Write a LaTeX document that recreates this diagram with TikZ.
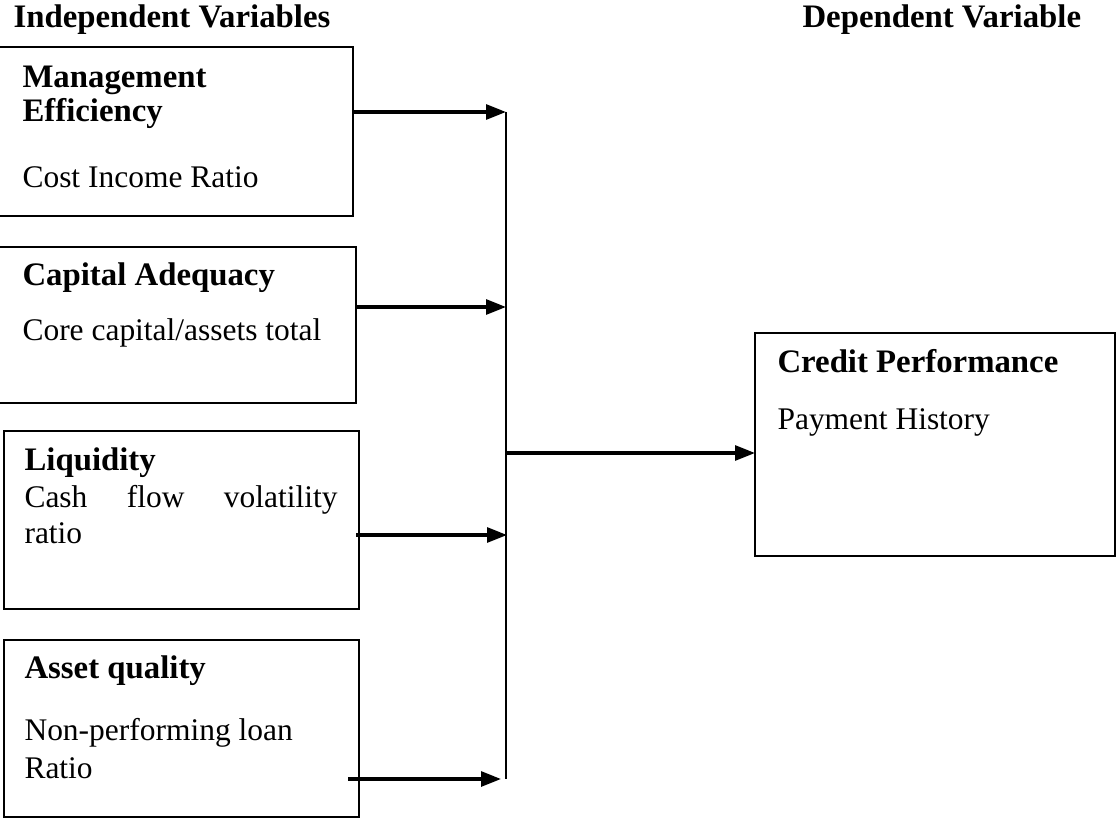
\documentclass[tikz,border=0pt]{standalone}
\usepackage{fontspec}
\setmainfont{Liberation Serif}
\usetikzlibrary{arrows.meta}
\newlength\pxu
\setlength\pxu{0.375pt}
\begin{document}
\begin{tikzpicture}[x=0.375pt,y=-0.375pt,
  box/.style={draw=black,line width=0.8pt,inner sep=0pt,outer sep=0pt,anchor=north west},
  txt/.style={anchor=base west,inner sep=0pt,font=\fontsize{11.8}{14}\selectfont},
  btxt/.style={txt,font=\fontsize{12.3}{14}\selectfont\bfseries},
  arr/.style={line width=1.2pt,-{Triangle[length=7.5pt,width=5.6pt]}},
  bus/.style={line width=0.9pt}]
\useasboundingbox (0,0) rectangle (1117,820);
% headers
\node[btxt] (hind) at (13,28) {Independent Variables};
\node[btxt] (hdep) at (802,28) {Dependent Variable};
% boxes
\node[box,minimum width=356\pxu,minimum height=169\pxu] (m) at (-3,47) {};
\node[box,minimum width=359\pxu,minimum height=156\pxu] (c) at (-3,247) {};
\node[box,minimum width=355\pxu,minimum height=178\pxu] (l) at (4,431) {};
\node[box,minimum width=355\pxu,minimum height=177\pxu] (a) at (4,640) {};
\node[box,minimum width=360\pxu,minimum height=223\pxu] (cp) at (755,333) {};
% texts
\node[btxt] (mt1) at (22,88) {Management};
\node[btxt] (mt2) at (22,122) {Efficiency};
\node[txt] (mt3) at (22,187) {Cost Income Ratio};
\node[btxt] (ct1) at (22,285) {Capital Adequacy};
\node[txt] (ct2) at (22,340) {Core capital/assets total};
\node[btxt] (lt1) at (24,470) {Liquidity};
\node[txt] (lt2) at (24,507) {\hbox to 313\pxu{Cash\hfill flow\hfill volatility}};
\node[txt] (lt3) at (24,543) {ratio};
\node[btxt] (at1) at (24,678) {Asset quality};
\node[txt] (at2) at (24,740) {Non-performing loan};
\node[txt] (at3) at (24,778) {Ratio};
\node[btxt] (cpt1) at (777,372) {Credit Performance};
\node[txt] (cpt2) at (777,429) {Payment History};
% bus coordinates
\coordinate (b1) at (506,112);
\coordinate (b2) at (506,307);
\coordinate (b3) at (507,535);
\coordinate (b4) at (501,779);
\coordinate (bend) at (506,779);
\coordinate (out) at (506,453);
% connectors
\draw[bus] (b1) -- (bend);
\draw[arr] (m.east |- b1) -- (b1);
\draw[arr] (c.east |- b2) -- (b2);
\draw[arr] ([xshift=-3\pxu]l.east |- b3) -- (b3);
\draw[arr] ([xshift=-11\pxu]a.east |- b4) -- (b4);
\draw[arr] (out) -- (cp.west |- out);
\end{tikzpicture}
\end{document}
